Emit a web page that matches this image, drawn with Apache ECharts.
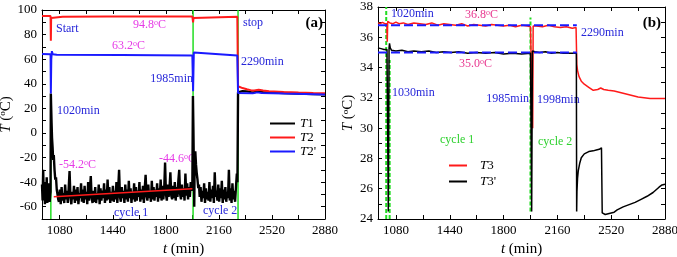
<!DOCTYPE html>
<html>
<head>
<meta charset="utf-8">
<script src="https://cdn.jsdelivr.net/npm/echarts@6/dist/echarts.min.js"></script>
<style>
  html, body { margin: 0; padding: 0; background: #fff; }
  #chart { width: 677px; height: 257px; }
</style>
</head>
<body>
<div id="chart"></div>
<script>
// ---- data, panel (a) ----
var xLabelsA = [1080, 1440, 1800, 2160, 2520, 2880];
var xTicks = [1080, 1260, 1440, 1620, 1800, 1980, 2160, 2340, 2520, 2700, 2880];
var yLabelsA = [-60, -40, -20, 0, 20, 40, 60, 80, 100];
var yTicksA = [-60, -50, -40, -30, -20, -10, 0, 10, 20, 30, 40, 50, 60, 70, 80, 90, 100];

// T1 noise before the first cycle, one value every 4 min from 960
var t1NoiseA = [-42, -55, -30, -52, -45, -58, -40, -54, -36, -57, -48, -53, -41, -56, -50];
var t1Spike1 = [[1018, -48], [1020, 32], [1022, 22], [1025, 8], [1028, -4], [1032, -12], [1036, -22],
  [1040, -18], [1045, -30], [1050, -38], [1055, -36], [1060, -46], [1065, -50], [1070, -54]];
// T1 noise during cycle 1, one value every 6 min from 1075
var t1NoiseB = [
  -56, -46, -58, -44, -55, -49, -57, -42, -54, -47,
  -57, -45, -31, -52, -58, -48, -54, -43, -57, -46,
  -55, -44, -58, -49, -53, -41, -56, -46, -57, -43,
  -54, -48, -58, -40, -55, -46, -35, -53, -57, -47,
  -56, -44, -57, -49, -54, -42, -58, -45, -55, -47,
  -53, -41, -57, -46, -55, -38, -54, -44, -57, -48,
  -55, -43, -56, -47, -54, -40, -57, -45, -30, -52,
  -56, -44, -53, -47, -57, -42, -54, -46, -56, -39,
  -53, -45, -57, -48, -54, -41, -56, -44, -55, -47,
  -52, -40, -56, -46, -54, -43, -57, -45, -34, -51,
  -55, -42, -53, -47, -56, -39, -54, -44, -55, -46,
  -52, -41, -56, -45, -53, -38, -55, -43, -54, -46,
  -24, -50, -55, -42, -52, -45, -32, -51, -54, -43,
  -53, -40, -55, -44, -52, -39, -30, -50, -54, -42,
  -52, -45, -55, -33, -51, -41, -54, -44, -52, -40,
  -47];
var t1Spike2 = [[1980, -44], [1984, 30], [1987, 5], [1990, -25], [1993, -60], [1996, -18], [2000, -15],
  [2005, -26], [2010, -33], [2015, -38], [2020, -45], [2025, -42]];
// T1 noise during cycle 2, one value every 6 min from 2030
var t1NoiseC = [
  -52, -44, -56, -47, -53, -41, -57, -45, -54, -48,
  -55, -40, -56, -46, -53, -43, -57, -32, -52, -47,
  -55, -42, -56, -45, -53, -39, -57, -46, -54, -44,
  -56, -48, -53, -30, -55, -45, -57, -41, -54, -47,
  -56, -44, -33];
var t1Tail = [[2286, -40], [2290, 33], [2295, 34.5], [2320, 34], [2350, 33.8], [2380, 33.2], [2395, 33],
  [2405, 34], [2430, 33.8], [2460, 33.2], [2500, 33], [2600, 32.5], [2700, 32], [2800, 31.7], [2880, 31.5]];

var t2 = [[960, 95.2], [1018, 95.2], [1020, 75], [1022, 93.5], [1030, 94.3], [1100, 94.6], [1400, 94.8],
  [1700, 94.8], [1980, 94.8], [1985, 90], [1988, 93.5], [1995, 94.5], [2285, 94.5], [2290, 38],
  [2300, 37.5], [2320, 36.5], [2350, 35.5], [2380, 34.6], [2400, 34.5], [2410, 35.3], [2430, 35.2],
  [2460, 34.5], [2500, 34], [2600, 33.3], [2700, 32.8], [2800, 32.4], [2880, 32.2]];
var t2p = [[960, 64.2], [1018, 64], [1020, 32], [1023, 60], [1027, 66.5], [1033, 64], [1060, 63.6],
  [1500, 63.3], [1980, 63], [1985, 34], [1990, 65.5], [2000, 64], [2285, 63], [2290, 32.5],
  [2300, 32.5], [2390, 32.2], [2400, 33.2], [2420, 33], [2450, 32.5], [2600, 32], [2880, 31.3]];
var trendA = [[1040, -52], [1980, -45.3]];
var greenA = [[[1020, -70], [1020, 24]], [[1985, -70], [1985, 100]], [[2290, -70], [2290, 100]]];

// ---- data, panel (b) ----
var yLabelsB = [24, 26, 28, 30, 32, 34, 36, 38];
var yTicksB = [24, 25, 26, 27, 28, 29, 30, 31, 32, 33, 34, 35, 36, 37, 38];
var t3 = [[960, 36.95], [975, 36.9], [990, 36.98], [1005, 36.9], [1015, 36.95], [1019, 36.9], [1022, 35.7],
  [1025, 37.05], [1030, 37.1], [1040, 36.95], [1060, 36.9], [1080, 37.0], [1100, 36.9], [1130, 36.95],
  [1160, 36.85], [1200, 36.95], [1240, 36.9], [1280, 36.85], [1320, 36.95], [1360, 36.8], [1400, 36.9],
  [1440, 36.85], [1480, 36.8], [1520, 36.9], [1560, 36.75], [1600, 36.85], [1640, 36.8], [1680, 36.75],
  [1720, 36.85], [1760, 36.8], [1800, 36.75], [1840, 36.8], [1880, 36.7], [1920, 36.8], [1960, 36.75],
  [1980, 36.7], [1992, 36.7], [1995, 30], [1998, 36.75], [2002, 36.8], [2020, 36.75], [2060, 36.7],
  [2100, 36.8], [2140, 36.7], [2180, 36.65], [2220, 36.7], [2260, 36.6], [2285, 36.65], [2290, 34.2],
  [2295, 33.8], [2305, 33.4], [2320, 33.1], [2340, 32.9], [2370, 32.7], [2400, 32.5], [2430, 32.55],
  [2450, 32.65], [2470, 32.55], [2500, 32.5], [2540, 32.45], [2580, 32.35], [2620, 32.25], [2660, 32.15],
  [2700, 32.05], [2740, 32.0], [2780, 31.95], [2820, 31.95], [2860, 31.95], [2880, 31.95]];
var t3p = [[960, 35.3], [980, 35.25], [1000, 35.2], [1020, 35.2], [1027, 35.2], [1029, 24.5], [1032, 24.5],
  [1034, 35.3], [1037, 35.6], [1042, 35.3], [1050, 35.15], [1080, 35.1], [1120, 35.15], [1160, 35.05],
  [1200, 35.1], [1250, 35.05], [1300, 35.1], [1350, 35.0], [1400, 35.05], [1450, 35.0], [1500, 35.05],
  [1560, 34.95], [1620, 35.0], [1680, 34.95], [1740, 35.0], [1800, 34.9], [1860, 34.95], [1920, 34.9],
  [1980, 34.95], [1986, 34.95], [1988, 24.5], [1991, 24.5], [1993, 35.1], [1998, 35.15], [2010, 35.05],
  [2040, 35.0], [2080, 35.05], [2120, 34.95], [2160, 35.0], [2200, 34.95], [2250, 34.95], [2287, 34.95],
  [2289, 24.5], [2291, 25.8], [2295, 26.7], [2300, 27.2], [2310, 27.7], [2320, 28.05], [2340, 28.3],
  [2370, 28.45], [2400, 28.5], [2420, 28.55], [2440, 28.6], [2455, 28.7], [2460, 24.4], [2480, 24.3],
  [2500, 24.35], [2520, 24.4], [2540, 24.45], [2560, 24.6], [2580, 24.7], [2600, 24.8], [2640, 24.95],
  [2680, 25.1], [2720, 25.3], [2760, 25.5], [2800, 25.75], [2840, 26.1], [2860, 26.25], [2880, 26.3]];
var blueDashB = [[[960, 36.8], [2290, 36.8]], [[960, 35.0], [2290, 35.0]]];
var greenB = [[[1015, 24], [1015, 38]], [[1038, 24], [1038, 34.5]], [[1980, 24.5], [1980, 37.3]]];

// ---- helpers ----
function steps(start, step, vals) {
  return vals.map(function (v, i) { return [start + i * step, v]; });
}
var t1 = [].concat(steps(960, 4, t1NoiseA), t1Spike1, steps(1075, 6, t1NoiseB),
  t1Spike2, steps(2030, 6, t1NoiseC), t1Tail);

var FONT = 'Liberation Serif';
var RED = '#ff1a1a', BLUE = '#1a1aff', GREEN = '#22dd22';
var TXT_BLUE = '#2626d9', TXT_MAG = '#e63ae6', TXT_PINK = '#e8368f', TXT_GREEN = '#2ed12e';
var supRich = {
  i: { fontStyle: 'italic', fontFamily: FONT, fontSize: 15, color: '#000' },
  s: { fontSize: 9, verticalAlign: 'top', fontFamily: FONT, color: '#000' }
};
function plainNum(v) { return String(v); }

function xAxisPair(grid) {
  var base = {
    type: 'value', gridIndex: grid, min: 960, max: 2880,
    axisLine: { show: true, onZero: false, lineStyle: { color: '#000', width: 1 } },
    axisTick: { show: true, inside: true, length: 4, customValues: xTicks, lineStyle: { color: '#000' } },
    splitLine: { show: false }
  };
  var bottom = Object.assign({}, base, {
    position: 'bottom',
    axisLabel: { customValues: xLabelsA, formatter: plainNum, color: '#000', fontFamily: FONT, fontSize: 13, margin: 5 },
    name: '{i|t} (min)', nameLocation: 'middle', nameGap: 19,
    nameTextStyle: { fontFamily: FONT, fontSize: 15, color: '#000', rich: supRich }
  });
  var top = Object.assign({}, base, { position: 'top', axisLabel: { show: false } });
  return [bottom, top];
}
function yAxisPair(grid, min, max, labels, ticks, gap) {
  var base = {
    type: 'value', gridIndex: grid, min: min, max: max,
    axisLine: { show: true, onZero: false, lineStyle: { color: '#000', width: 1 } },
    axisTick: { show: true, inside: true, length: 4, customValues: ticks, lineStyle: { color: '#000' } },
    splitLine: { show: false }
  };
  var left = Object.assign({}, base, {
    position: 'left',
    axisLabel: { customValues: labels, formatter: plainNum, color: '#000', fontFamily: FONT, fontSize: 13, margin: 5 },
    name: '{i|T} ({s|o}C)', nameLocation: 'middle', nameGap: gap, nameRotate: 90,
    nameTextStyle: { fontFamily: FONT, fontSize: 15, color: '#000', rich: supRich }
  });
  var right = Object.assign({}, base, { position: 'right', axisLabel: { show: false } });
  return [left, right];
}

function lineSeries(name, data, xi, yi, color, width, extra) {
  return Object.assign({
    name: name, type: 'line', data: data, xAxisIndex: xi, yAxisIndex: yi,
    showSymbol: false, symbol: 'none', animation: false, silent: true,
    lineStyle: { color: color, width: width }, itemStyle: { color: color }
  }, extra || {});
}

var series = [];
greenA.forEach(function (d) { series.push(lineSeries('', d, 0, 0, GREEN, 1.5, { z: 1 })); });
series.push(lineSeries('T1', t1, 0, 0, '#000', 2.4, { z: 2 }));
series.push(lineSeries('T2', t2, 0, 0, RED, 2, { z: 3 }));
series.push(lineSeries("T2'", t2p, 0, 0, BLUE, 2, { z: 4 }));
series.push(lineSeries('', trendA, 0, 0, RED, 1.5, { z: 5 }));
greenB.forEach(function (d) {
  series.push(lineSeries('', d, 2, 2, GREEN, 2, { z: 1, lineStyle: { color: GREEN, width: 2, type: [4, 2] } }));
});
series.push(lineSeries('T3', t3, 2, 2, RED, 1.5, { z: 3 }));
series.push(lineSeries("T3'", t3p, 2, 2, '#000', 1.5, { z: 4 }));
blueDashB.forEach(function (d) {
  series.push(lineSeries('', d, 2, 2, BLUE, 2, { z: 5, lineStyle: { color: BLUE, width: 2, type: [9, 4] } }));
});

function degText(x, y, num, color) {
  return {
    type: 'text', x: x, y: y, silent: true,
    style: {
      text: num + '{s|o}C', fill: color, font: '12px "' + FONT + '"', textVerticalAlign: 'middle',
      rich: { s: { fontSize: 8, verticalAlign: 'top', fill: color, fontFamily: FONT } }
    }
  };
}
function plainText(x, y, str, color, align, font) {
  return {
    type: 'text', x: x, y: y, silent: true,
    style: { text: str, fill: color, font: font || ('12px "' + FONT + '"'), textAlign: align || 'left', textVerticalAlign: 'middle' }
  };
}

var legendText = {
  fontFamily: FONT, fontSize: 13, color: '#000', lineHeight: 13,
  rich: { i: { fontStyle: 'italic', fontFamily: FONT, fontSize: 13, color: '#000' } }
};
function legendFmt(name) { return '{i|T}' + name.slice(1); }

var chart = echarts.init(document.getElementById('chart'), null, { renderer: 'canvas' });
chart.setOption({
  backgroundColor: '#fff',
  animation: false,
  grid: [
    { left: 42, top: 10, right: 352, bottom: 38, outerBoundsMode: 'none' },
    { left: 378, top: 7, right: 12, bottom: 38, outerBoundsMode: 'none' }
  ],
  xAxis: [].concat(xAxisPair(0), xAxisPair(1)).map(function (a, i) {
    return Object.assign(a, { gridIndex: i < 2 ? 0 : 1 });
  }),
  yAxis: [].concat(yAxisPair(0, -70, 100, yLabelsA, yTicksA, 24), yAxisPair(1, 24, 38, yLabelsB, yTicksB, 22)),
  legend: [
    {
      data: ['T1', 'T2', "T2'"], orient: 'vertical', left: 265, top: 112,
      itemWidth: 25, itemHeight: 2, itemGap: 1, icon: 'rect',
      formatter: legendFmt, textStyle: legendText, selectedMode: false
    },
    {
      data: ['T3', "T3'"], orient: 'vertical', left: 444, top: 154,
      itemWidth: 18, itemHeight: 2, itemGap: 3, icon: 'rect',
      formatter: legendFmt, textStyle: Object.assign({ padding: [0, 0, 0, 8] }, legendText), selectedMode: false
    }
  ],
  graphic: [
    plainText(56, 29, 'Start', TXT_BLUE),
    degText(133, 25, '94.8', TXT_MAG),
    degText(112, 46, '63.2', TXT_MAG),
    plainText(243, 23, 'stop', TXT_BLUE),
    plainText(323, 23, '(a)', '#000', 'right', 'bold 15px "' + FONT + '"'),
    plainText(241, 62, '2290min', TXT_BLUE),
    plainText(193, 79, '1985min', TXT_BLUE, 'right'),
    plainText(57, 111, '1020min', TXT_BLUE),
    degText(59, 165, '-54.2', TXT_MAG),
    degText(159, 159, '-44.6', TXT_MAG),
    plainText(114, 213, 'cycle 1', TXT_BLUE),
    plainText(203, 211, 'cycle 2', TXT_BLUE),

    plainText(391, 14, '1020min', TXT_BLUE),
    degText(465, 15, '36.8', TXT_PINK),
    plainText(661, 23, '(b)', '#000', 'right', 'bold 15px "' + FONT + '"'),
    plainText(581, 33, '2290min', TXT_BLUE),
    degText(459, 64, '35.0', TXT_PINK),
    plainText(392, 93, '1030min', TXT_BLUE),
    plainText(529, 99, '1985min', TXT_BLUE, 'right'),
    plainText(537, 100, '1998min', TXT_BLUE),
    plainText(440, 140, 'cycle 1', TXT_GREEN),
    plainText(538, 142, 'cycle 2', TXT_GREEN)
  ],
  series: series
});
</script>
</body>
</html>
